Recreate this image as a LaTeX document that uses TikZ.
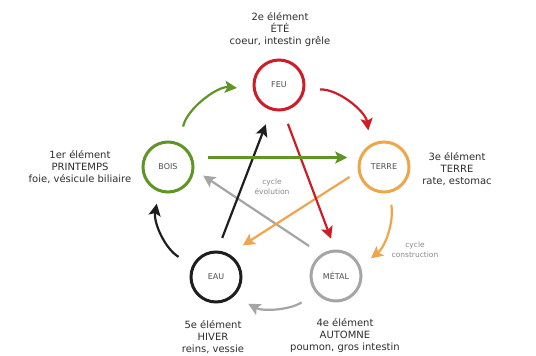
\documentclass[tikz,border=0pt]{standalone}
\usepackage{fontspec}
\setmainfont{DejaVu Sans}
\usetikzlibrary{arrows.meta}
\definecolor{feured}{RGB}{205,30,40}
\definecolor{boisgreen}{RGB}{95,150,35}
\definecolor{terreorange}{RGB}{238,165,75}
\definecolor{eaublack}{RGB}{30,30,30}
\definecolor{metalgray}{RGB}{165,165,165}
\definecolor{txtgray}{RGB}{45,45,45}
\definecolor{labgray}{RGB}{135,135,145}

\begin{document}
\begin{tikzpicture}[x=1pt,y=1pt,
        element/.style={circle,line width=3pt,minimum size=50pt,inner sep=0pt,
          font=\fontsize{8}{8}\selectfont,text=txtgray!85},
        info/.style={align=center,font=\fontsize{10}{12}\selectfont,text=txtgray},
        cyclelabel/.style={align=center,font=\fontsize{7.5}{10}\selectfont,text=labgray},
        flow/.style={line width=2.2pt,-{Stealth[length=12pt,width=12pt,inset=2.5pt]}}]
        \useasboundingbox (0,0) rectangle (536,356);

        % the five elements
        \node[element,draw=feured] (feu) at (279,271) {FEU};
        \node[element,draw=boisgreen] (bois) at (168,189) {BOIS};
        \node[element,draw=terreorange] (terre) at (384,189) {TERRE};
        \node[element,draw=eaublack] (eau) at (216,79) {EAU};
        \node[element,draw=metalgray] (metal) at (336,80) {MÉTAL};

        \node[info] (ete) at (280,326) {2e élément\\ÉTÉ\\coeur, intestin grêle};
        \node[info] (printemps) at (80,189) {1er élément\\PRINTEMPS\\foie, vésicule biliaire};
        \node[info] (terreinfo) at (457,187) {3e élément\\TERRE\\rate, estomac};
        \node[info] (hiver) at (213,19) {5e élément\\HIVER\\reins, vessie};
        \node[info] (automne) at (345,20) {4e élément\\AUTOMNE\\poumon, gros intestin};

        \node[cyclelabel] (evol) at (272,169) {cycle\\évolution};
        \node[cyclelabel] (constr) at (415,106) {cycle\\construction};

        % outer cycle (construction)
        \draw[flow,boisgreen,shorten <=17pt,shorten >=16pt] (bois.64) to[bend left=42] (feu.190);
        \draw[flow,feured,shorten <=15pt,shorten >=14pt] (feu.-11) to[bend left=42] (terre.121);
        \draw[flow,terreorange,shorten <=12pt,shorten >=13pt] (terre.-78) to[bend left=30] (metal.21);
        \draw[flow,metalgray,shorten <=17pt,shorten >=16pt] (metal.221) to[bend left=30] (eau.-47);
        \draw[flow,eaublack,shorten <=16pt,shorten >=12pt] (eau.153) to[bend left=35] (bois.250);

        % inner star (evolution)
        \draw[flow,metalgray,shorten <=14.5pt,shorten >=10.5pt] (metal.124) -- (bois.-6);
        \draw[flow,terreorange,shorten <=10pt,shorten >=16pt] (terre.190) -- (eau.60);
        \draw[flow,eaublack,shorten <=13.5pt,shorten >=15pt] (eau.87) -- (feu.-107);
        \draw[flow,feured,shorten <=13.5pt,shorten >=11.5pt] (feu.-81) -- (metal.92);
        \draw[flow,boisgreen,shorten <=15pt,shorten >=12pt] (bois.21) -- (terre.159);

        \end{tikzpicture}
\end{document}
